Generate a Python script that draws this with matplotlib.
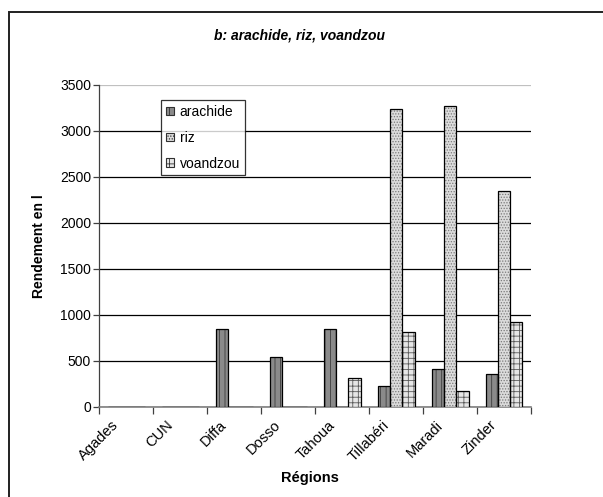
import matplotlib
matplotlib.use('Agg')
import matplotlib.pyplot as plt
import matplotlib.transforms as mtransforms
from matplotlib.patches import Rectangle
import numpy as np

plt.rcParams['font.family'] = ['Liberation Sans', 'DejaVu Sans']
plt.rcParams['hatch.linewidth'] = 0.6

regions = ['Agades', 'CUN', 'Diffa', 'Dosso', 'Tahoua', 'Tillabéri', 'Maradi', 'Zinder']
arachide = [0, 0, 848, 540, 848, 228, 416, 355]
riz = [0, 0, 0, 0, 0, 3240, 3270, 2351]
voandzou = [0, 0, 0, 0, 312, 812, 174, 924]

series = [
    ('arachide', arachide, '#8a8a8a', '#3c3c3c', '|||'),
    ('riz', riz, '#dcdcdc', '#7a7a7a', '......'),
    ('voandzou', voandzou, '#e6e6e6', '#5a5a5a', '+++'),
]

fig = plt.figure(figsize=(6.03, 4.97), dpi=100)
ax = fig.add_axes([0.1647, 0.1811, 0.7159, 0.6479])

x = np.arange(len(regions))
w = 0.228
handles = []
for i, (name, vals, face, hatch_col, hatch) in enumerate(series):
    pos = x + (i - 1) * w
    # hatch layer first, then a plain black outline on top
    ax.bar(pos, vals, w, color=face, edgecolor=hatch_col, hatch=hatch, linewidth=0, zorder=3)
    ax.bar(pos, vals, w, color='none', edgecolor='black', linewidth=0.9, zorder=4)
    handles.append(Rectangle((0, 0), 1, 1, facecolor=face, edgecolor='#303030', hatch=hatch, linewidth=0.8))

ax.set_xlim(-0.5, len(regions) - 0.5)
ax.set_ylim(0, 3500)
ax.set_yticks(np.arange(0, 3501, 500))
ax.yaxis.grid(True, color='black', linewidth=0.9, zorder=0)
ax.set_axisbelow(True)
ax.get_ygridlines()[-1].set_color('#c0c0c0')

ax.set_xticks(x)
ax.set_xticks(np.arange(-0.5, len(regions)), minor=True)
ax.tick_params(axis='x', which='major', length=0, labelbottom=False)
ax.tick_params(axis='x', which='minor', length=5, width=0.9, color='#404040', direction='out')
ax.tick_params(axis='y', length=4, width=0.9, color='#404040', labelsize=10, pad=2)

# region names, placed under each group and nudged left
label_shift = mtransforms.ScaledTranslation(-0.145, -0.11, fig.dpi_scale_trans)
for xi, name in zip(x, regions):
    ax.text(xi, 0, name, transform=ax.get_xaxis_transform() + label_shift,
            rotation=45, ha='right', va='top', rotation_mode='anchor', fontsize=10.5)

for side in ['top', 'right']:
    ax.spines[side].set_visible(False)
ax.spines['left'].set_color('#404040')
ax.spines['bottom'].set_color('#808080')
ax.spines['left'].set_linewidth(0.9)
ax.spines['bottom'].set_linewidth(1.2)

ax.set_ylabel('Rendement en l', fontsize=10, fontweight='bold', labelpad=10)
fig.text(0.514, 0.038, 'Régions', ha='center', va='center', fontsize=10.5, fontweight='bold')

leg = ax.legend(handles, ['arachide', 'riz', 'voandzou'], loc='upper left',
                bbox_to_anchor=(0.143, 0.953), fontsize=10, frameon=True, fancybox=False,
                edgecolor='black', handlelength=0.55, handleheight=0.55, labelspacing=0.85,
                handletextpad=0.45, borderpad=0.35, borderaxespad=0)
leg.get_frame().set_linewidth(0.9)
leg.set_zorder(10)

fig.text(0.497, 0.928, 'b: arachide, riz, voandzou', ha='center', va='center',
         fontsize=10, fontweight='bold', style='italic')

# outer chart frame
fig.patches.append(Rectangle((9 / 603, -0.1), 1.2, 1 - 12 / 497 + 0.1, transform=fig.transFigure,
                             fill=False, edgecolor='#202020', linewidth=1.4))

fig.savefig('out.png', dpi=100)
